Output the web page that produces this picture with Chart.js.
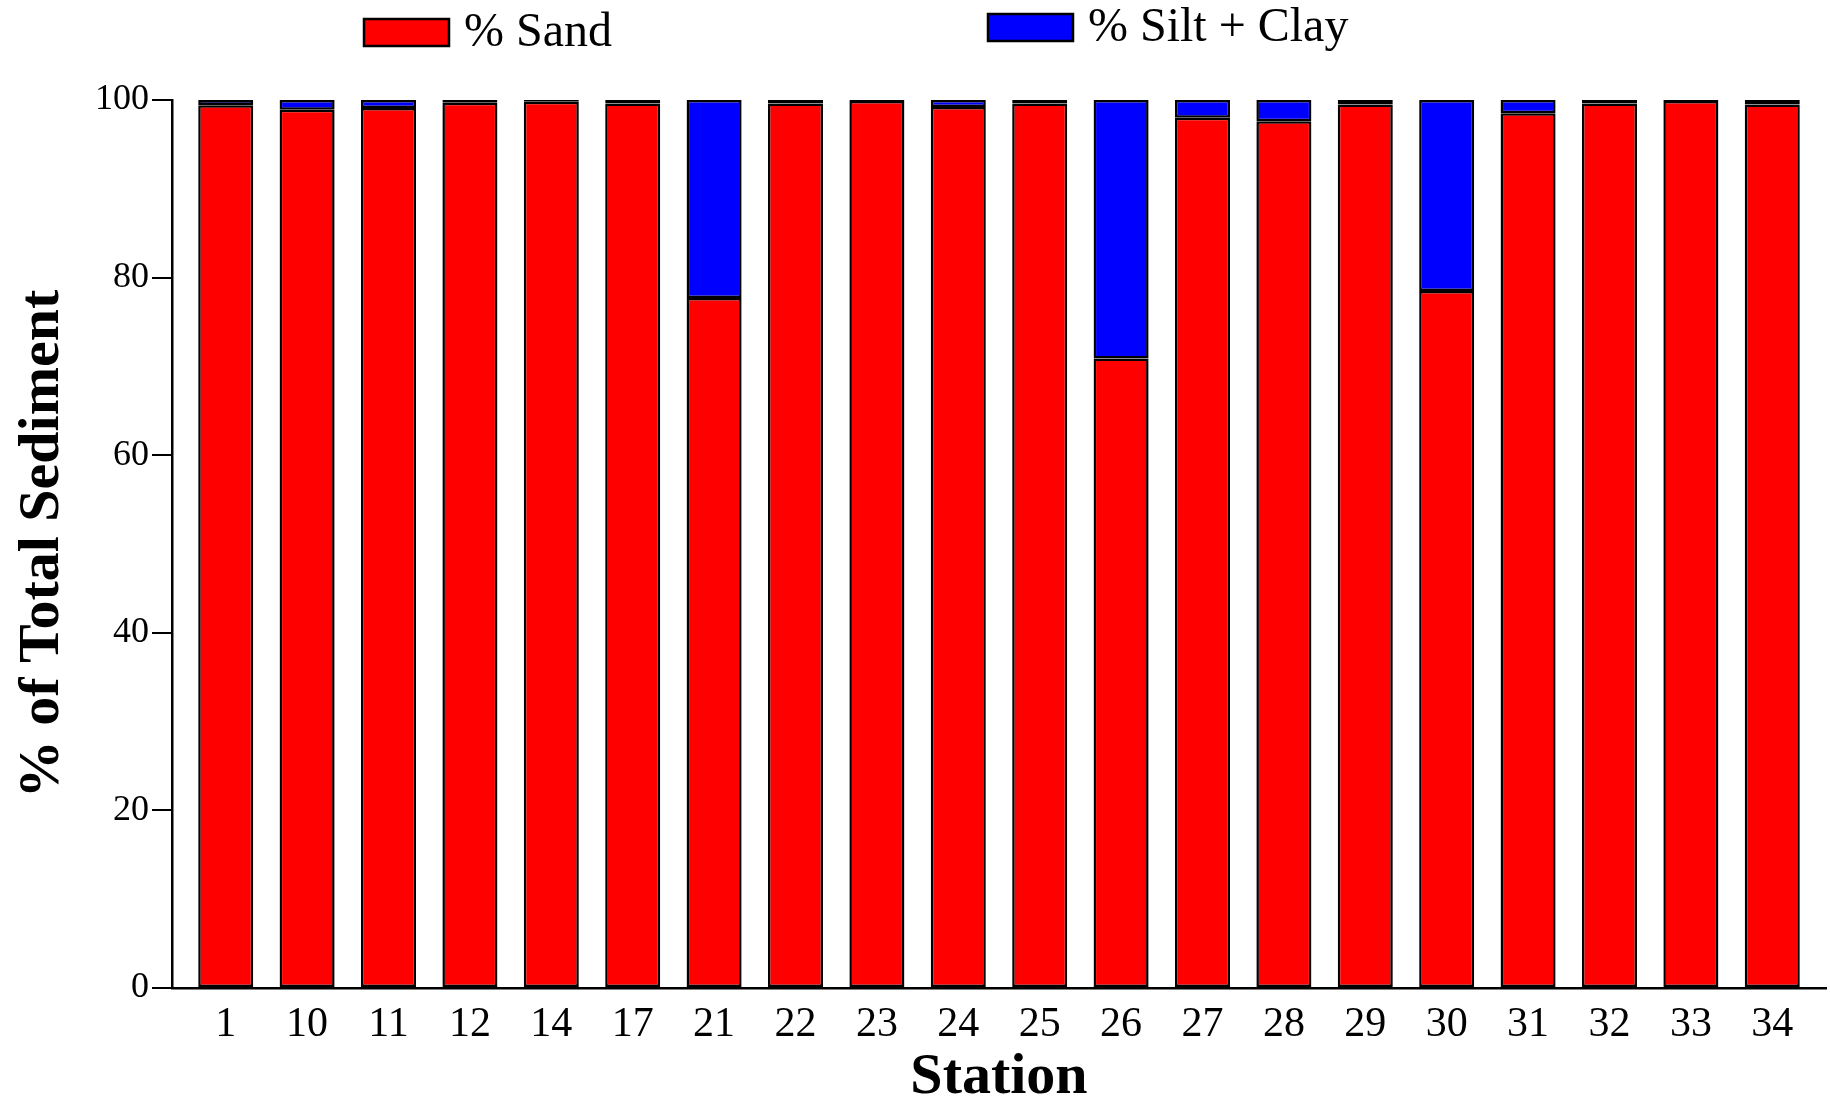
<!DOCTYPE html>
<html>
<head>
<meta charset="utf-8">
<title>% of Total Sediment by Station</title>
<script src="https://cdn.jsdelivr.net/npm/chart.js@4.4.1/dist/chart.umd.min.js"></script>
<style>
  html, body { margin: 0; padding: 0; background: #fff; }
  #wrap { width: 1830px; height: 1108px; }
</style>
</head>
<body>
<div id="wrap"><canvas id="chart-sediment" width="1830" height="1108"></canvas></div>
<script>
/* ── Data ───────────────────────── */
const stations = ['1', '10', '11', '12', '14', '17', '21', '22', '23', '24',
                  '25', '26', '27', '28', '29', '30', '31', '32', '33', '34'];
const sand     = [99.4, 98.9, 99.1, 99.7, 99.8, 99.6, 77.7, 99.6, 99.9, 99.2,
                  99.6, 70.9, 98.0, 97.6, 99.5, 78.5, 98.5, 99.6, 99.9, 99.5];
const siltClay = [0.6, 1.1, 0.9, 0.3, 0.2, 0.4, 22.3, 0.4, 0.1, 0.8,
                  0.4, 29.1, 2.0, 2.4, 0.5, 21.5, 1.5, 0.4, 0.1, 0.5];
const yTicks = [0, 20, 40, 60, 80, 100];

const red = '#FF0000';
const blue = '#0000FF';
const black = '#000000';
const serif = "'Liberation Serif', 'Times New Roman', serif";

Chart.defaults.font.family = serif;
Chart.defaults.color = black;

// legend drawn at fixed spots, like the original figure
const fixedLegend = {
  id: 'fixedLegend',
  afterDraw(chart, args, opts) {
    const ctx = chart.ctx;
    ctx.save();
    ctx.font = opts.font;
    ctx.textBaseline = 'middle';
    ctx.textAlign = 'left';
    chart.data.datasets.forEach((ds, i) => {
      const p = opts.items[i];
      ctx.fillStyle = ds.backgroundColor;
      ctx.fillRect(p.x, p.y, opts.boxWidth, opts.boxHeight);
      ctx.lineWidth = 2.5;
      ctx.strokeStyle = black;
      ctx.strokeRect(p.x, p.y, opts.boxWidth, opts.boxHeight);
      ctx.fillStyle = black;
      ctx.fillText(ds.label, p.x + opts.boxWidth + 15, p.y + opts.boxHeight / 2 + 1);
    });
    ctx.restore();
  }
};

const toPoints = arr => arr.map((v, i) => ({ x: i, y: v }));

new Chart(document.getElementById('chart-sediment'), {
  type: 'bar',
  data: {
    datasets: [
      {
        label: '% Sand',
        data: toPoints(sand),
        backgroundColor: red,
        borderColor: black,
        borderWidth: 2.5,
        borderSkipped: false,
        categoryPercentage: 1,
        barPercentage: 0.676
      },
      {
        label: '% Silt + Clay',
        data: toPoints(siltClay),
        backgroundColor: blue,
        borderColor: black,
        borderWidth: 2.5,
        borderSkipped: false,
        categoryPercentage: 1,
        barPercentage: 0.676
      }
    ]
  },
  plugins: [fixedLegend],
  options: {
    responsive: false,
    animation: false,
    devicePixelRatio: 1,
    layout: { padding: { top: 100, right: 4, bottom: 0, left: 0 } },
    plugins: {
      legend: { display: false },
      tooltip: { enabled: false },
      fixedLegend: {
        font: "48px " + serif,
        boxWidth: 85,
        boxHeight: 27,
        items: [{ x: 364, y: 19 }, { x: 988, y: 14 }]
      }
    },
    scales: {
      x: {
        type: 'linear',
        stacked: true,
        offset: false,
        min: -0.66,
        max: stations.length - 1 + 0.66,
        afterBuildTicks: scale => { scale.ticks = stations.map((s, i) => ({ value: i })); },
        grid: { display: false, drawTicks: false, offset: false },
        border: { color: black, width: 2.5 },
        ticks: {
          autoSkip: false,
          maxRotation: 0,
          padding: 16,
          color: black,
          font: { size: 42, lineHeight: 1 },
          callback: v => stations[v] ?? ''
        },
        title: {
          display: true,
          text: 'Station',
          color: black,
          font: { size: 58, weight: 'bold', lineHeight: 0.552 },
          padding: { top: 0, bottom: 14 }
        }
      },
      y: {
        stacked: true,
        min: 0,
        max: 100,
        afterBuildTicks: scale => { scale.ticks = yTicks.map(v => ({ value: v })); },
        grid: { drawOnChartArea: false, drawTicks: true, tickLength: 20, color: black, lineWidth: 2 },
        border: { color: black, width: 2.5 },
        ticks: { padding: 3, color: black, font: { size: 36 } },
        title: {
          display: true,
          text: '% of Total Sediment',
          color: black,
          font: { size: 58, weight: 'bold', lineHeight: 1 },
          padding: { top: 14, bottom: 20 }
        }
      }
    }
  }
});
</script>
</body>
</html>
